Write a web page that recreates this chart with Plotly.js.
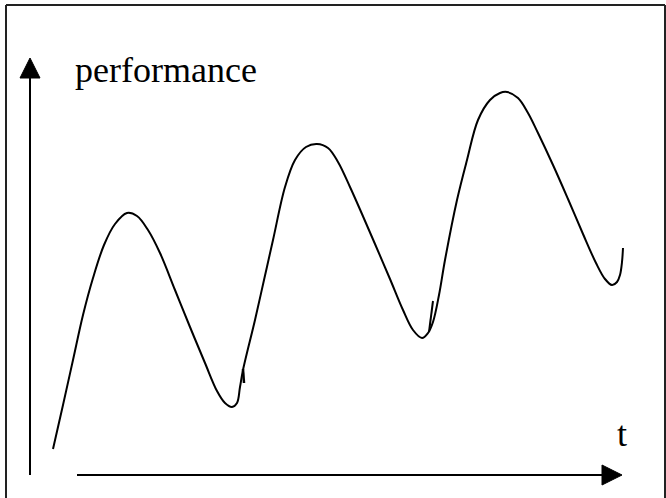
<!DOCTYPE html>
<html>
<head>
<meta charset="utf-8">
<script src="https://cdn.plot.ly/plotly-3.0.1.min.js"></script>
<style>html,body{margin:0;padding:0;background:#fff;}#chart{width:666px;height:498px;}</style>
</head>
<body>
<div id="chart"></div>
<script>
// Conceptual performance curve over time (arbitrary units, origin where the axis arrows meet)
const t = [23,33,43,53,63,74,85,97,107,118,130,145,160,175,187,195,202,
           207,210,213,225,234,243,255,265,276,287,298,308,320,332,345,360,373,383,392,398,403,409,
           415,427,437,448,460,470,477,488,498,508,523,538,553,566,575,582,587,590,592,593];
const performance = [26,70,115,160,197,230,251,262,259,245,222,185,148,112,84,72,68,
           72,88,105,155,195,235,288,315,328,331,327,313,288,261,231,196,165,145,137,142,153,180,
           215,275,315,355,375,382,383,377,362,342,310,276,241,212,196,190,193,200,213,227];
// small overdrawn pen strokes in the hand-drawn original
const strokeA_t = [213,214], strokeA_p = [106,92];
const strokeB_t = [403,399], strokeB_p = [174,143];

const yLabel = "performance";
const xLabel = "t";

const traces = [
  {x:t, y:performance, mode:'lines', line:{color:'#000', width:2, shape:'spline', smoothing:1}, hoverinfo:'skip'},
  {x:strokeA_t, y:strokeA_p, mode:'lines', line:{color:'#000', width:2.5}, hoverinfo:'skip'},
  {x:strokeB_t, y:strokeB_p, mode:'lines', line:{color:'#000', width:2}, hoverinfo:'skip'}
];

const layout = {
  width:666, height:498,
  margin:{l:0,r:0,t:0,b:0},
  paper_bgcolor:'#fff', plot_bgcolor:'#fff',
  showlegend:false,
  xaxis:{range:[-30,636], visible:false, fixedrange:true},
  yaxis:{range:[-23,475], visible:false, fixedrange:true},
  shapes:[
    // frame
    {type:'line', xref:'paper', yref:'paper', x0:6/666, x1:665/666, y0:1-5/498, y1:1-5/498, line:{color:'#222', width:2}},
    {type:'line', xref:'paper', yref:'paper', x0:6/666, x1:6/666, y0:1-5/498, y1:-0.02, line:{color:'#222', width:2}},
    {type:'line', xref:'paper', yref:'paper', x0:665/666, x1:665/666, y0:1-5/498, y1:-0.02, line:{color:'#222', width:2}},
    // vertical axis arrow
    {type:'line', x0:0, x1:0, y0:0, y1:398, line:{color:'#000', width:2}},
    {type:'path', path:'M -10 397 L 10 397 L 0 417 Z', fillcolor:'#000', line:{color:'#000', width:1}},
    // horizontal axis arrow
    {type:'line', x0:47, x1:573, y0:0, y1:0, line:{color:'#000', width:2}},
    {type:'path', path:'M 572 10 L 572 -10 L 592 0 Z', fillcolor:'#000', line:{color:'#000', width:1}}
  ],
  annotations:[
    {text:yLabel, x:43, y:405, xanchor:'left', yanchor:'middle', showarrow:false,
     font:{family:'Liberation Serif, Times New Roman, serif', size:36, color:'#000'}},
    {text:xLabel, x:592, y:41, xanchor:'center', yanchor:'middle', showarrow:false,
     font:{family:'Liberation Serif, Times New Roman, serif', size:36, color:'#000'}}
  ]
};

Plotly.newPlot('chart', traces, layout, {staticPlot:true, displayModeBar:false});
</script>
</body>
</html>
